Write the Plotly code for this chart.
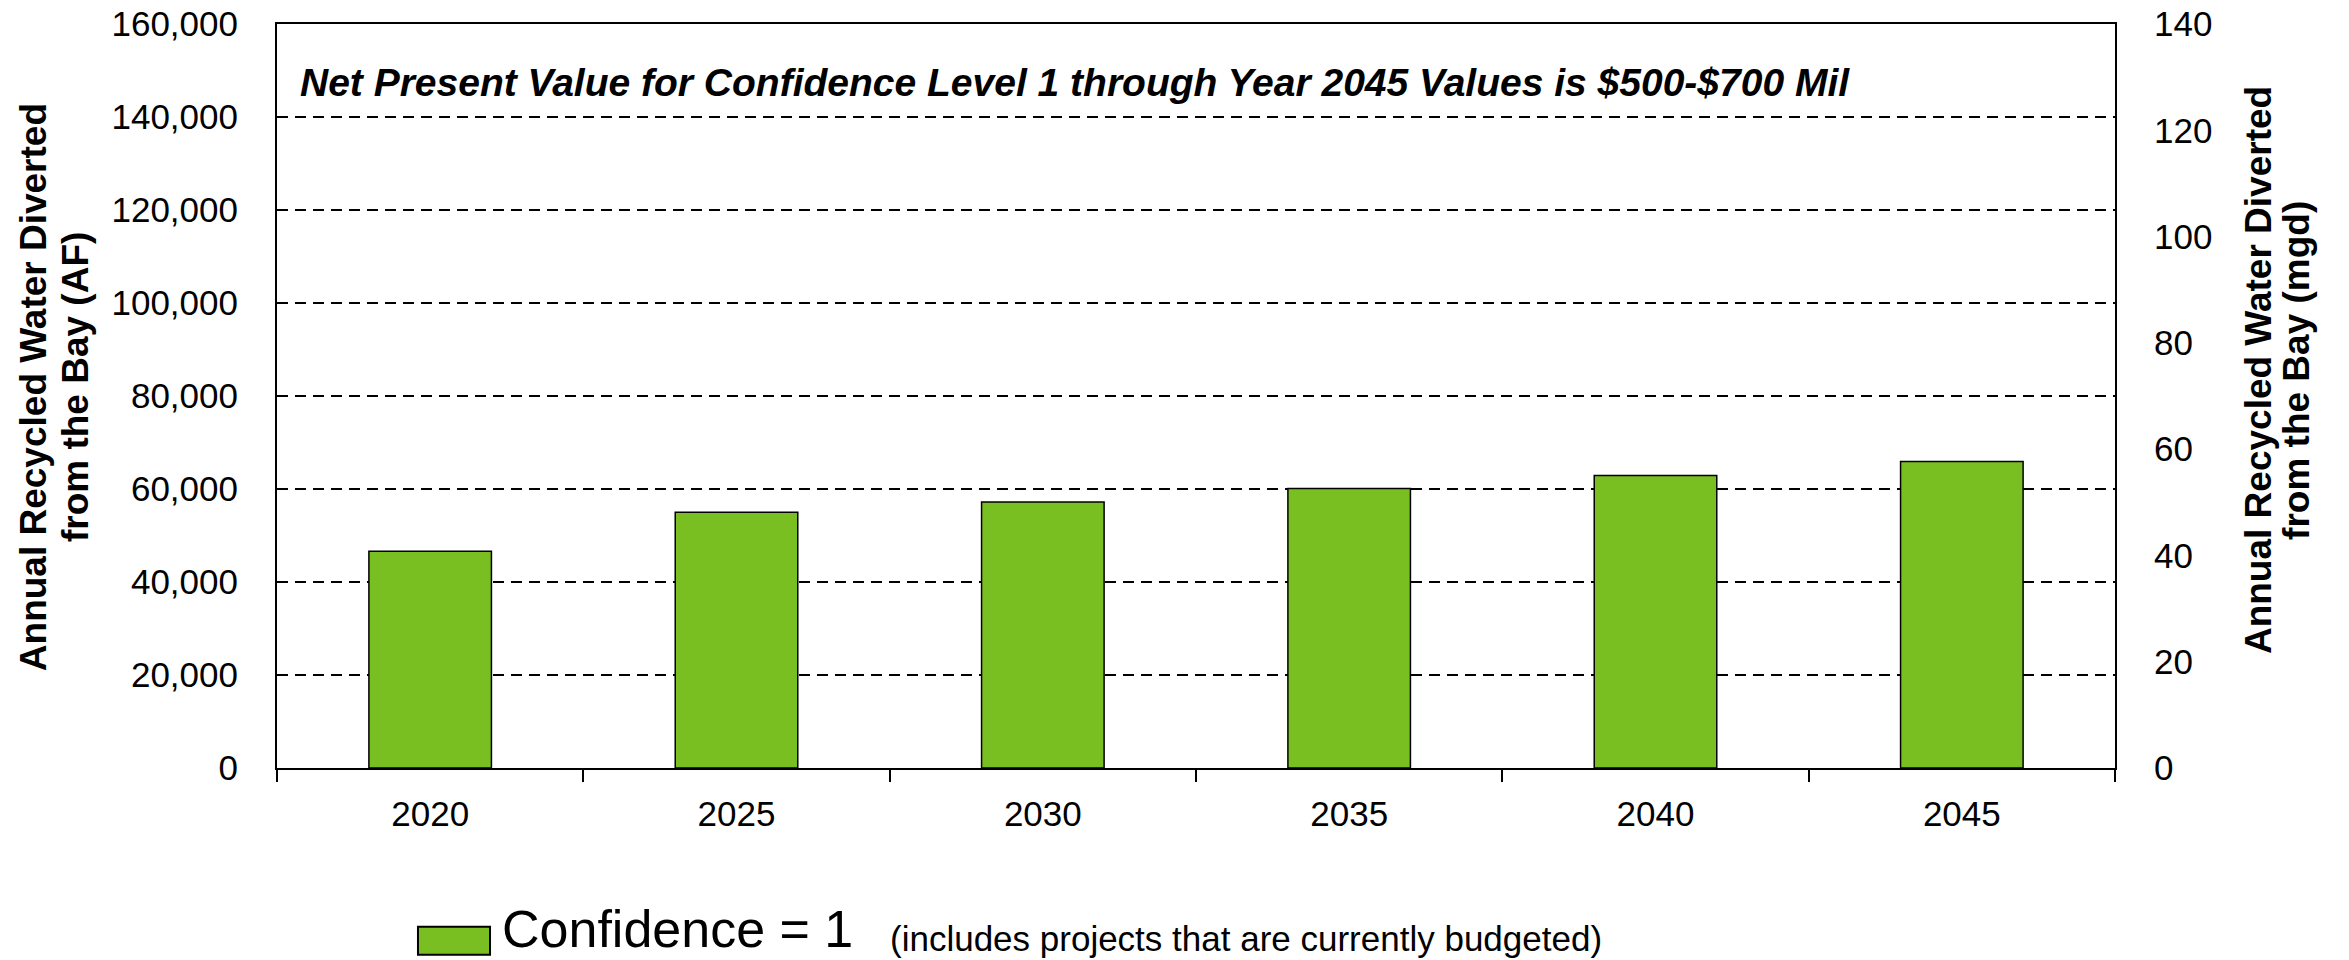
"""Recycled water diverted from the Bay, confidence level 1."""

import plotly.graph_objects as go

YEARS = ["2020", "2025", "2030", "2035", "2040", "2045"]
AF_CONF1 = [46600, 55000, 57200, 60100, 62900, 65900]

AF_TICKS = [0, 20000, 40000, 60000, 80000, 100000, 120000, 140000, 160000]
MGD_TICKS = [0, 20, 40, 60, 80, 100, 120, 140]

NPV_NOTE = "Net Present Value for Confidence Level 1 through Year 2045 Values is $500-$700 Mil"
LEGEND_NAME = "Confidence = 1"
LEGEND_NOTE = "(includes projects that are currently budgeted)"
LEFT_TITLE = ["Annual Recycled Water Diverted", "from the Bay (AF)"]
RIGHT_TITLE = ["Annual Recycled Water Diverted", "from the Bay (mgd)"]

FONT = "Arial, 'Liberation Sans', sans-serif"
GREEN = "#7abf22"

fig = go.Figure()
fig.add_trace(
    go.Bar(
        x=YEARS,
        y=AF_CONF1,
        name=LEGEND_NAME,
        marker=dict(color=GREEN, line=dict(color="black", width=1.5)),
        showlegend=False,
    )
)
# anchor so the mgd axis on the right gets drawn
fig.add_trace(
    go.Scatter(
        x=YEARS[:1],
        y=MGD_TICKS[:1],
        yaxis="y2",
        mode="markers",
        marker=dict(opacity=0),
        showlegend=False,
        hoverinfo="skip",
    )
)

fig.update_layout(
    width=2349,
    height=960,
    margin=dict(l=277, r=234, t=24, b=192),
    paper_bgcolor="white",
    plot_bgcolor="white",
    bargap=0.6,
    font=dict(family=FONT, size=35, color="black"),
    xaxis=dict(
        type="category",
        tickson="boundaries",
        ticks="outside",
        ticklen=12,
        tickwidth=2,
        tickcolor="black",
        showline=True,
        linecolor="black",
        linewidth=2,
        mirror=True,
        showgrid=False,
        automargin=False,
        ticklabelstandoff=14,
        tickfont=dict(size=35),
    ),
    yaxis=dict(
        range=[0, 160000],
        tickvals=AF_TICKS,
        tickformat=",d",
        showline=True,
        linecolor="black",
        linewidth=2,
        showgrid=True,
        gridcolor="black",
        gridwidth=2,
        griddash="11px,7px",
        zeroline=False,
        ticks="",
        automargin=False,
        ticklabeloverflow="allow",
        ticklabelstandoff=30,
        tickfont=dict(size=35),
    ),
    yaxis2=dict(
        overlaying="y",
        side="right",
        range=[0, 140],
        tickvals=MGD_TICKS,
        showline=True,
        linecolor="black",
        linewidth=2,
        showgrid=False,
        zeroline=False,
        ticks="",
        automargin=False,
        ticklabeloverflow="allow",
        ticklabelstandoff=30,
        tickfont=dict(size=35),
    ),
)

# headline note inside the plot
fig.add_annotation(
    text=f"<b><i>{NPV_NOTE}</i></b>",
    xref="paper", yref="y",
    x=0.0114, y=147400,
    xanchor="left", yanchor="middle",
    showarrow=False,
    font=dict(size=39),
)

# axis titles, one annotation per line to keep the tight line spacing
for text, x in zip(LEFT_TITLE, [-0.1327, -0.1099]):
    fig.add_annotation(
        text=f"<b>{text}</b>",
        xref="paper", yref="paper",
        x=x, y=0.512,
        xanchor="center", yanchor="middle",
        textangle=-90,
        showarrow=False,
        font=dict(size=37),
    )
for text, x in zip(RIGHT_TITLE, [1.0784, 1.0990]):
    fig.add_annotation(
        text=f"<b>{text}</b>",
        xref="paper", yref="paper",
        x=x, y=0.535,
        xanchor="center", yanchor="middle",
        textangle=-90,
        showarrow=False,
        font=dict(size=37),
    )

# legend drawn by hand so the key box matches the original size
fig.add_shape(
    type="rect",
    xref="paper", yref="paper",
    x0=0.0767, x1=0.1159, y0=-0.2509, y1=-0.2133,
    fillcolor=GREEN,
    line=dict(color="black", width=2),
)
fig.add_annotation(
    text=LEGEND_NAME,
    xref="paper", yref="paper",
    x=0.1213, y=-0.2580,
    xanchor="left", yanchor="bottom",
    showarrow=False,
    font=dict(size=52),
)
fig.add_annotation(
    text=LEGEND_NOTE,
    xref="paper", yref="paper",
    x=0.3324, y=-0.2577,
    xanchor="left", yanchor="bottom",
    showarrow=False,
    font=dict(size=35),
)

# drop the default body margin so the figure sits at the window's corner
fig.write_html(
    "out.html",
    config={"displayModeBar": False},
    post_script="document.body.style.margin = '0';",
)
